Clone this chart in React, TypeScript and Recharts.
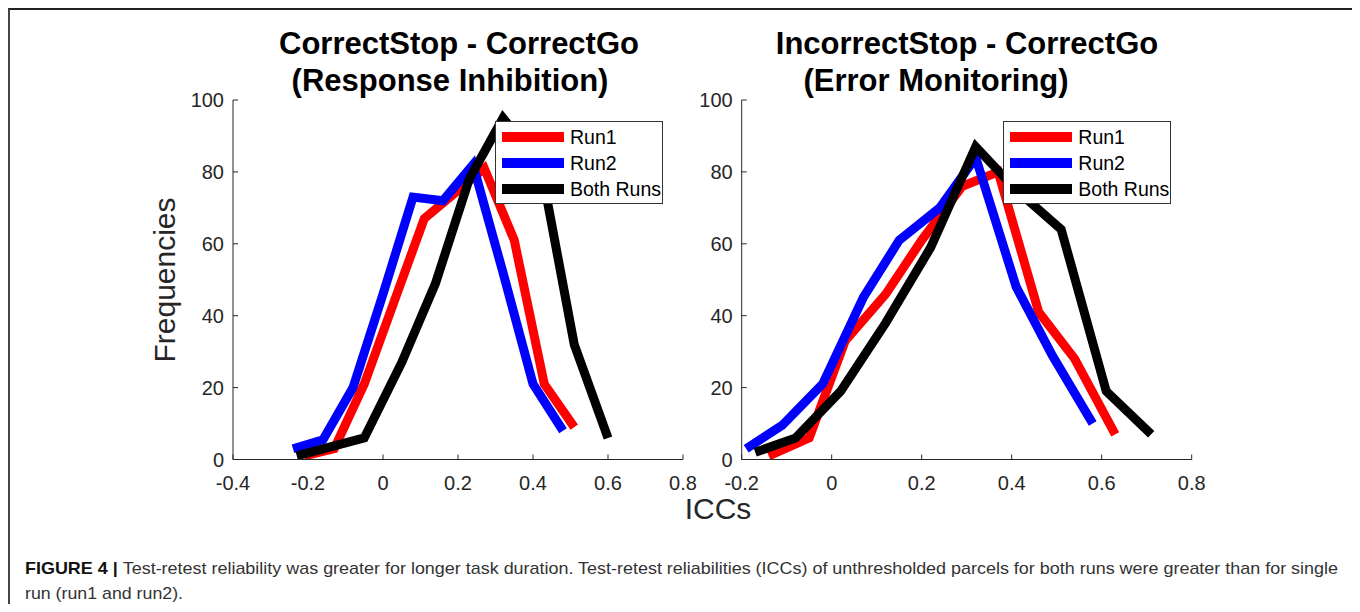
import React from "react";
import { LineChart, Line, XAxis, YAxis, Legend } from "recharts";

// CorrectStop - CorrectGo (Response Inhibition)
const inhibRun1Icc = [-0.21, -0.13, -0.05, 0.03, 0.11, 0.19, 0.27, 0.35, 0.43, 0.51];
const inhibRun1Freq = [1, 3, 21, 44, 67, 74, 81, 61, 21, 9];
const inhibRun2Icc = [-0.24, -0.16, -0.08, 0, 0.08, 0.16, 0.24, 0.32, 0.4, 0.48];
const inhibRun2Freq = [3, 5.5, 20, 46, 73, 72, 82, 52, 21, 8];
const inhibBothIcc = [-0.23, -0.14, -0.05, 0.05, 0.14, 0.23, 0.32, 0.42, 0.51, 0.6];
const inhibBothFreq = [1, 3.5, 6, 27, 49, 78, 95, 82, 32, 6];

// IncorrectStop - CorrectGo (Error Monitoring)
const errRun1Icc = [-0.14, -0.05, 0.03, 0.12, 0.2, 0.29, 0.37, 0.46, 0.54, 0.63];
const errRun1Freq = [1, 6, 33, 46, 61, 76, 80, 41, 28, 7];
const errRun2Icc = [-0.19, -0.11, -0.02, 0.07, 0.15, 0.24, 0.32, 0.41, 0.49, 0.58];
const errRun2Freq = [3, 9.5, 21, 45, 61, 70, 84, 48, 29, 10];
const errBothIcc = [-0.17, -0.08, 0.02, 0.12, 0.22, 0.32, 0.41, 0.51, 0.61, 0.71];
const errBothFreq = [2, 6, 19, 38, 59, 87, 75, 64, 19, 7];

const seriesNames = ["Run1", "Run2", "Both Runs"];
const seriesColors = ["#ff0000", "#0000ff", "#000000"];
const yTicks = [0, 20, 40, 60, 80, 100];
const inhibXTicks = [-0.4, -0.2, 0, 0.2, 0.4, 0.6, 0.8];
const errXTicks = [-0.2, 0, 0.2, 0.4, 0.6, 0.8];

const AXIS = "#262626";
const FONT = '"Liberation Sans", Arial, Helvetica, sans-serif';

const toPoints = (xs: number[], ys: number[]) =>
  xs.map((x, i) => ({ icc: x, freq: ys[i] }));

// MATLAB style ticks: marks inside the box, labels outside
const LeftTick = ({ x, y, payload }: any) => (
  <g>
    <line x1={x} y1={y} x2={x + 5} y2={y} stroke={AXIS} />
    <text x={x - 9} y={y} textAnchor="end" dominantBaseline="central"
      fontSize={20} fill={AXIS} fontFamily={FONT}>{payload.value}</text>
  </g>
);
const BottomTick = ({ x, y, payload }: any) => (
  <g>
    <line x1={x} y1={y} x2={x} y2={y - 5} stroke={AXIS} />
    <text x={x} y={y + 30} textAnchor="middle" fontSize={20} fill={AXIS}
      fontFamily={FONT}>{payload.value}</text>
  </g>
);
const TopTick = ({ x, y }: any) => (
  <line x1={x} y1={y} x2={x} y2={y + 5} stroke={AXIS} />
);
const RightTick = ({ x, y }: any) => (
  <line x1={x} y1={y} x2={x - 5} y2={y} stroke={AXIS} />
);

const LegendBox = (props: any) => {
  // keep the plotting order (Run1, Run2, Both Runs)
  const items = [...(props.payload || [])].sort(
    (a: any, b: any) => seriesNames.indexOf(a.value) - seriesNames.indexOf(b.value)
  );
  return (
    <div style={{
      boxSizing: "border-box", width: 168, height: 83, border: "1px solid #333",
      background: "#fff", paddingTop: 2, fontFamily: FONT, fontSize: 19.5,
    }}>
      {items.map((entry: any) => (
        <div key={entry.value} style={{ display: "flex", alignItems: "center", height: 26 }}>
          <span style={{ display: "inline-block", marginLeft: 6, width: 62, height: 10, background: entry.color }} />
          <span style={{ marginLeft: 6, color: "#000", lineHeight: "26px" }}>{entry.value}</span>
        </div>
      ))}
    </div>
  );
};

interface PanelProps {
  left: number;
  marginLeft: number;
  xDomain: [number, number];
  xTicks: number[];
  legendLeft: number;
  series: { icc: number[]; freq: number[] }[];
}

function Panel({ left, marginLeft, xDomain, xTicks, legendLeft, series }: PanelProps) {
  return (
    <div style={{ position: "absolute", left, top: 0 }}>
      <LineChart width={700} height={520}
        margin={{ top: 90, right: 700 - marginLeft - 40 - 450, bottom: 40.5, left: marginLeft }}>
        <XAxis dataKey="icc" type="number" domain={xDomain} ticks={xTicks} interval={0}
          allowDataOverflow tickSize={0} tickMargin={0} height={30} stroke={AXIS}
          tick={<BottomTick />} />
        <XAxis xAxisId="top" orientation="top" dataKey="icc" type="number" domain={xDomain}
          ticks={xTicks} interval={0} allowDataOverflow tickSize={0} tickMargin={0}
          height={0} stroke={AXIS} tick={<TopTick />} />
        <YAxis type="number" domain={[0, 100]} ticks={yTicks} interval={0} allowDataOverflow
          tickSize={0} tickMargin={0} width={40} stroke={AXIS} tick={<LeftTick />} />
        <YAxis yAxisId="right" orientation="right" type="number" domain={[0, 100]}
          ticks={yTicks} interval={0} allowDataOverflow tickSize={0} tickMargin={0}
          width={0} stroke={AXIS} tick={<RightTick />} />
        {series.map((s, i) => (
          <Line key={seriesNames[i]} data={toPoints(s.icc, s.freq)} dataKey="freq"
            name={seriesNames[i]} type="linear" stroke={seriesColors[i]} strokeWidth={9}
            dot={false} activeDot={false} isAnimationActive={false} />
        ))}
        <Legend layout="horizontal" verticalAlign="middle" align="center"
          content={<LegendBox />}
          wrapperStyle={{ left: legendLeft, top: 111, width: 168, height: 83 }} />
      </LineChart>
    </div>
  );
}

export default function App() {
  return (
    <div style={{
      position: "relative", boxSizing: "border-box", width: 1348, height: 596,
      borderTop: "2px solid #222", borderLeft: "2px solid #444", borderRight: "2px solid #888",
      fontFamily: FONT, background: "#fff",
    }}>
      <Panel left={0} marginLeft={183} xDomain={[-0.4, 0.8]} xTicks={inhibXTicks}
        legendLeft={485}
        series={[
          { icc: inhibRun1Icc, freq: inhibRun1Freq },
          { icc: inhibRun2Icc, freq: inhibRun2Freq },
          { icc: inhibBothIcc, freq: inhibBothFreq },
        ]} />
      <Panel left={510} marginLeft={181.7} xDomain={[-0.2, 0.8]} xTicks={errXTicks}
        legendLeft={483.3}
        series={[
          { icc: errRun1Icc, freq: errRun1Freq },
          { icc: errRun2Icc, freq: errRun2Freq },
          { icc: errBothIcc, freq: errBothFreq },
        ]} />
      <svg width={1344} height={594}
        style={{ position: "absolute", left: 0, top: 0, pointerEvents: "none" }}>
        <g fontFamily={FONT} fontWeight="bold" fontSize={31} fill="#000" textAnchor="middle">
          <text x={449} y={44}>CorrectStop - CorrectGo</text>
          <text x={440} y={81}>(Response Inhibition)</text>
          <text x={957} y={44}>IncorrectStop - CorrectGo</text>
          <text x={926} y={81}>(Error Monitoring)</text>
        </g>
        <text x={164.5} y={270} transform="rotate(-90 164.5 270)" textAnchor="middle"
          fontFamily={FONT} fontSize={30} fill={AXIS}>Frequencies</text>
        <text x={708} y={509} textAnchor="middle" fontFamily={FONT} fontSize={30}
          fill={AXIS}>ICCs</text>
        <text x={15} y={564} fontFamily={FONT} fontSize={17} fill="#333" textLength={1313}
          lengthAdjust="spacingAndGlyphs">
          <tspan fontWeight="bold" fill="#111">FIGURE 4 | </tspan>
          Test-retest reliability was greater for longer task duration. Test-retest reliabilities (ICCs) of unthresholded parcels for both runs were greater than for single
        </text>
        <text x={15} y={589} fontFamily={FONT} fontSize={17} fill="#333" textLength={158}
          lengthAdjust="spacingAndGlyphs">run (run1 and run2).</text>
      </svg>
    </div>
  );
}
